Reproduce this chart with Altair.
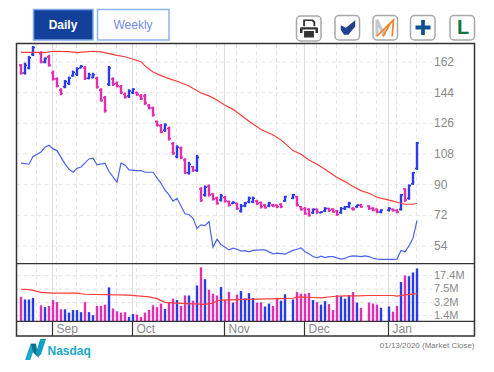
import altair as alt
import pandas as pd

N = None
high = [160.8,161.6,165.5,171.4,N,168.3,164.7,166.1,156.9,153.0,
        146.6,151.4,153.4,156.9,158.9,160.2,159.7,155.7,155.7,153.4,
        146.6,142.1,159.7,153.0,150.5,148.5,144.0,146.0,146.6,144.6,
        143.2,143.2,137.4,135.8,127.6,125.6,126.0,124.1,115.1,113.1,
        112.3,105.5,103.4,101.0,107.5,88.5,89.5,90.1,85.0,83.0,
        84.6,83.4,80.7,80.3,79.5,78.7,79.9,83.0,83.0,81.1,
        80.1,78.7,79.9,78.7,78.3,79.1,83.4,N,84.6,83.4,
        77.5,76.8,76.2,76.0,76.0,74.4,76.8,76.4,76.2,75.2,
        76.8,77.5,79.9,76.8,78.3,78.7,N,77.9,76.8,76.0,
        75.6,N,76.8,76.0,75.6,84.6,87.9,90.1,97.5,115.1]
low = [154.6,154.6,157.7,165.5,N,161.2,161.2,159.3,151.1,147.1,
       142.5,146.6,148.5,153.4,153.8,158.3,151.4,151.8,152.4,146.4,
       138.7,132.3,147.9,147.9,147.1,143.2,140.5,140.9,143.2,142.1,
       139.7,136.8,134.2,129.9,124.1,120.2,121.0,115.9,107.5,105.5,
       104.9,96.3,95.9,97.5,97.5,79.9,83.0,83.0,80.7,78.3,
       80.1,79.5,77.2,78.7,75.2,73.6,76.8,79.1,79.1,78.1,
       76.0,76.0,76.8,76.8,76.2,76.2,79.9,N,81.5,77.2,
       74.8,72.3,71.3,72.9,72.9,73.2,74.0,74.0,73.6,71.7,
       72.9,75.2,76.2,74.8,76.4,76.4,N,75.2,74.4,73.2,
       73.2,N,74.2,74.2,73.2,74.8,79.9,81.1,89.9,98.7]
opens = [160,155.5,158.5,166.5,N,167,162,165,155.5,152,
         145.5,147.5,149.5,154,155,158.5,158.5,152.5,153,152.5,
         145.5,141,149,152,149.5,147.5,143,142,144,144,
         142,142,136.5,135,127,124.5,122,123,114,106.5,
         111.5,104.5,97,100.5,98.5,87.5,84,89,84.5,82,
         81,82.5,80,79,79,74.5,77.5,80,80,80.5,
         79.5,78,77.5,78,78,78.5,80.5,N,82,83,
         77,76,75.5,73.5,75.5,73.5,74.5,76,75.5,74.5,
         73.5,76,77,76,77,78,N,77.5,76,75.5,
         74,N,75,75.5,75,75.5,87.5,82,90.5,99.5]
closes = [155.5,160,164.5,170.5,N,162,164,160,152,148,
          143.5,150.5,152.5,156,158,159.5,152.5,154.5,154.5,147.5,
          139.5,133.5,158.5,149,148,144,141.5,145,146,143,
          140.5,138,135,131,125,121,125,117,108.5,112,
          106,97,102,98.5,106,81,88.5,84,81.5,79,
          83.5,80.5,78,79.5,76,77.5,79,82,82,79,
          77,76.5,79,77.5,77,77,83,N,84,78,
          75.5,73,72,75.5,74,74,76,75,74,72.5,
          76,77,79,75.5,78,77,N,76,75,74,
          75,N,76,75,74,84,81,89.5,97,114.5]
price_dir = list("mbbb-mbmmm" "mbbbbbmbbm" "mmbmmmmbbm" "mmmmmmbmmb" "mmbmbmbmmm"
                 "bmmbmbbbbm" "mmbmmmb-bm" "mmmbmbbmmm" "bbbmbm-mmm" "b-bmmbmbbb")
volume = [4.6,3.9,3.9,4.3,N,2.7,2.4,2.6,3.75,3.3,
          2.1,2.1,1.7,2.0,2.0,1.75,3.3,1.75,1.45,2.6,
          2.6,2.8,8.3,2.2,1.85,1.7,1.75,1.3,1.55,1.5,
          1.3,1.7,2.0,2.7,2.4,3.0,2.15,3.2,4.1,3.75,
          2.6,5.0,5.0,3.6,9.4,29.5,14.0,7.2,5.6,5.0,
          8.5,3.75,6.3,3.2,5.3,6.6,4.2,5.8,4.3,3.2,
          3.25,2.5,3.0,2.6,4.3,3.6,5.4,N,3.9,6.2,
          5.6,5.6,5.9,3.75,3.3,2.8,3.5,2.9,2.0,5.1,
          4.8,4.1,5.1,6.2,3.2,2.3,N,3.2,3.0,2.8,
          2.3,N,2.5,1.8,2.6,11.7,17.6,16.8,21.3,27.5]
volume_dir = list("mbbb-mbmmm" "mbbbbbmbbm" "mmbmmmmbbm" "mmmmmmbmmb" "mmbmbmbmmm"
                  "bmmbmbbbbm" "mbbmmbb-bm" "mmmbmbbmmm" "bbbmbm-mmm" "b-bmmbmbbb")

ma_x = [0,4,6,8,12,14,16,18,20,22,24,26,28,30,31,33,35,37,39,42,45,47,49,51,53,55,57,60,
        63,65,68,70,72,74,76,79,81,83,85,87,89,91,93,95,96,98,99]
ma_y = [167.7,167.7,167.5,168.3,168.1,167.5,167.9,168.3,167.9,166.9,165.9,165.1,163.6,162.2,159.7,156.1,154,152.2,150.7,147.9,143.8,142.1,139.7,136.6,134.2,130.7,127.2,122.4,
        119.2,116.3,110,107.9,104.5,102,99,94.2,91.8,88.9,86.5,85,82.6,81.5,80.3,79.1,78.5,78.5,79.1]
rs_x = [0,2,3,5,6,7,8,9,11,12,13,14,15,17,18,19,21,22,24,25,26,27,29,30,31,33,35,36,37,38,39,41,42,43,44,45,46,47,48,49,50,52,53,54,55,56,
        57,58,60,61,63,64,66,68,69,70,71,72,73,74,75,76,77,78,79,80,81,82,83,84,85,86,87,88,89,90,91,92,93,94,95,96,97,98,99]
rs_y = [102.6,102,106.5,109.2,112,113.1,111,110,102.2,99,97.3,99.6,100.4,105.1,105.5,101.6,102.6,97.7,91.4,102.6,101.6,98.7,98.3,98.3,97.3,97.3,90.8,86.9,84,80.3,82,72.9,72.5,70.3,64.4,66.4,66,68.4,53.3,58,54.9,51.7,52.7,52.1,51,51.3,
        50.6,51.4,51.7,51.7,49.4,49.8,49.2,51.4,52.1,52.9,50.6,49.4,47.8,47,48,47.2,47.8,47.8,47,46.3,46.7,47.8,48.2,48,47.8,48.2,47.8,46.8,46.3,46.1,46.1,46.1,46.1,46.3,51.4,50.6,54.1,58.6,68.9]
vma_x = [0,2,3,5,8,14,16,27,32,34,36,40,46,48,49,50,56,65,68,69,73,75,78,81,84,87,93,94,96,99]
vma_y = [7.4,7.2,6.9,6.1,5.8,5.8,5.4,5.1,4.6,4.1,3.25,3.05,2.85,3.1,3.6,3.75,3.9,4.1,4.2,4.6,4.4,4.3,4.7,4.9,4.9,5.0,5.0,4.8,5.2,5.6]

price_ticks = [162,144,126,108,90,72,54]
vol_ticks = [17.4,7.5,3.2,1.4]
vol_labels = ["17.4M","7.5M","3.2M","1.4M"]
months = ["Sep","Oct","Nov","Dec","Jan"]
month_pos = [7.875,27.875,50.875,70.875,91.875]
week_pos = [3.875,8.875,13.875,18.875,23.875,28.875,33.875,38.875,43.875,48.875,53.875,58.875,
            63.875,68.875,73.875,78.875,83.875,88.875,93.875,98.875]

MAG, BLU, RED, LINE = "#e02fb0", "#2a3ce6", "#ff3c3c", "#4c63e8"
GRAY = "#8a8a8a"
FONT = "Liberation Sans"

bars = pd.DataFrame({"i": range(100), "high": high, "low": low, "open": opens, "close": closes, "dir": price_dir}).dropna()
bars["l"] = bars.i - 0.5
bars["r"] = bars.i + 0.5
vols = pd.DataFrame({"i": range(100), "vol": volume, "dir": volume_dir}).dropna()
ma = pd.DataFrame({"i": ma_x, "v": ma_y})
rs = pd.DataFrame({"i": rs_x, "v": rs_y})
vma = pd.DataFrame({"i": vma_x, "v": vma_y})
pt = pd.DataFrame({"v": price_ticks})
vt = pd.DataFrame({"v": vol_ticks, "t": vol_labels})
mt = pd.DataFrame({"i": month_pos, "t": months})
wt = pd.DataFrame({"i": week_pos})
one = pd.DataFrame({"a": [0]})

X = alt.Scale(domain=[0, 100], range=[13, 413])
xq = lambda f: alt.X(f"{f}:Q", scale=X, axis=None)
PY = alt.Scale(domain=[162, 54], range=[54, 238], zero=False, nice=False)
VY = alt.Scale(type="log", domain=[17.4, 1.4], range=[267.7, 307.7], nice=False)
color = alt.Color("dir:N", scale=alt.Scale(domain=["m", "b"], range=[MAG, BLU]), legend=None)
py = lambda f: alt.Y(f"{f}:Q", scale=PY, axis=None)
vy = lambda f: alt.Y(f"{f}:Q", scale=VY, axis=None)


def box(x0, x1, y0, y1, **kw):
    return alt.Chart(one).mark_rect(**kw).encode(
        x=alt.value(x0 - 8), x2=alt.value(x1 - 8), y=alt.value(y0 - 8), y2=alt.value(y1 - 8))


def glyph(path, x, y, side, **kw):
    return alt.Chart(one).mark_point(shape=path, size=side * side, opacity=1, **kw).encode(
        x=alt.value(x - 8), y=alt.value(y - 8))


def label(text, x, y, **kw):
    return alt.Chart(one).mark_text(text=text, font=FONT, **kw).encode(
        x=alt.value(x - 8), y=alt.value(y - 8))


grid_v_minor = alt.Chart(wt).mark_rule(color="#e6e6e6", strokeDash=[4, 3], strokeWidth=1).encode(
    x=xq("i"), y=alt.value(36), y2=alt.value(313))
grid_v_major = alt.Chart(mt).mark_rule(color="#dddddd", strokeWidth=1).encode(
    x=xq("i"), y=alt.value(36), y2=alt.value(313))
month_sep = alt.Chart(mt).mark_rule(color="#333333", strokeWidth=1.2).encode(
    x=xq("i"), y=alt.value(313), y2=alt.value(328))
month_txt = alt.Chart(mt).mark_text(align="left", baseline="middle", dx=4, font=FONT, fontSize=12, color=GRAY).encode(
    x=xq("i"), y=alt.value(320.5), text="t:N")

price_layer = alt.layer(
    alt.Chart(pt).mark_rule(color="#e6e6e6", strokeDash=[4, 3], strokeWidth=1).encode(
        y=py("v"), x=alt.value(8.5), x2=alt.value(424)),
    alt.Chart(pt).mark_text(align="left", baseline="middle", font=FONT, fontSize=12, color=GRAY).encode(
        y=py("v"), x=alt.value(426), text="v:Q"),
    alt.Chart(bars).mark_rule(strokeWidth=2.4).encode(x=xq("i"), y=py("high"), y2="low:Q", color=color),
    alt.Chart(bars).mark_rule(strokeWidth=1.6).encode(x=xq("l"), x2="i:Q", y=py("open"), color=color),
    alt.Chart(bars).mark_rule(strokeWidth=1.6).encode(x=xq("i"), x2="r:Q", y=py("close"), color=color),
    alt.Chart(ma).mark_line(color=RED, strokeWidth=1.2).encode(x=xq("i"), y=py("v")),
    alt.Chart(rs).mark_line(color=LINE, strokeWidth=1.2).encode(x=xq("i"), y=py("v")),
)

vol_layer = alt.layer(
    alt.Chart(vt).mark_rule(color="#e0e0e0", strokeDash=[4, 3], strokeWidth=1).encode(
        y=vy("v"), x=alt.value(8.5), x2=alt.value(424)),
    alt.Chart(vt).mark_text(align="left", baseline="middle", font=FONT, fontSize=11, color=GRAY).encode(
        y=vy("v"), x=alt.value(426), text="t:N"),
    alt.Chart(vols).mark_rule(strokeWidth=2.4).encode(x=xq("i"), y=vy("vol"), y2=alt.datum(1.0), color=color),
    alt.Chart(vma).mark_line(color=RED, strokeWidth=1.2).encode(x=xq("i"), y=vy("v")),
)

frame = alt.layer(
    box(16.5, 474.5, 43.5, 336, fillOpacity=0, stroke="#333333", strokeWidth=1.5),
    box(16.5, 474.5, 263.7, 263.7, fillOpacity=0, stroke="#333333", strokeWidth=1.2),
    box(16.5, 474.5, 321.3, 321.3, fillOpacity=0, stroke="#333333", strokeWidth=1.2),
)

PRINTER = ("M-.65 -1 L.45 -1 L.7 -.75 L.7 -.25 L.5 -.25 L.5 -.65 L.3 -.82 L-.45 -.82 L-.45 -.25 L-.65 -.25 Z "
           "M-.85 -.15 L.85 -.15 Q1 -.15 1 0 L1 .5 L.72 .5 L.72 .12 L-.72 .12 L-.72 .5 L-1 .5 L-1 0 Q-1 -.15 -.85 -.15 Z "
           "M-.55 .28 L.55 .28 L.55 1 L-.55 1 Z")
CHECK = "M-1 -.3 L-.3 .05 L1 -1 L1 -.15 L.05 1 L-.55 1 L-1 .3 Z"
MGRAY = "M-.95 .9 L-.95 -.95 L-.1 .9 L-.1 .1"
MORANGE = "M-1 1 L1 -.95 L.85 1 M-.25 1 L.75 -.75"
PLUS = "M-.25 -1 L.25 -1 L.25 -.27 L1 -.27 L1 .27 L.25 .27 L.25 1 L-.25 1 L-.25 .27 L-1 .27 L-1 -.27 L-.25 -.27 Z"
N_LEFT = "M-1 1 L-.45 -.55 L.05 -.55 L-.5 1 Z"
N_RIGHT = "M.05 .25 L.45 -1 L1 -1 L.55 .4 L.25 .75 Z"
N_MID = "M-.45 -.55 L.05 -.55 L.25 .75 L-.2 .3 Z"

chrome = alt.layer(
    box(33.5, 93, 9.5, 40, fill="#12409b", stroke="#7fa8ea", strokeWidth=1.5),
    box(97.5, 169, 9.5, 40, fill="#ffffff", stroke="#8fb2ee", strokeWidth=1.5),
    label("Daily", 63, 25, fontSize=12, fontWeight="bold", color="#ffffff", align="center", baseline="middle"),
    label("Weekly", 133, 25, fontSize=12, color="#7288e6", align="center", baseline="middle"),
    box(296.5, 321, 16, 41, fill="#ffffff", stroke="#a8a8a8", strokeWidth=1.5, cornerRadius=4),
    box(335, 359.5, 15.5, 40, fill="#ffffff", stroke="#a8a8a8", strokeWidth=1.5, cornerRadius=4),
    box(373, 397.5, 15.5, 40, fill="#ffffff", stroke="#a8a8a8", strokeWidth=1.5, cornerRadius=4),
    box(410.5, 435, 15.5, 40, fill="#ffffff", stroke="#a8a8a8", strokeWidth=1.5, cornerRadius=4),
    box(450, 474.5, 15.5, 40, fill="#ffffff", stroke="#a8a8a8", strokeWidth=1.5, cornerRadius=4),
    glyph(PRINTER, 309, 28.5, 18, filled=True, color="#333333"),
    glyph(CHECK, 348, 27.5, 14.5, filled=True, color="#22408f"),
    glyph(MGRAY, 385, 28, 17, filled=False, color="#c6c6c6", strokeWidth=3),
    glyph(MORANGE, 385, 28, 17, filled=False, color="#f5832a", strokeWidth=1.7),
    glyph(PLUS, 423, 27.5, 15, filled=True, color="#10508f"),
    label("L", 463, 28, fontSize=20, fontWeight="bold", color="#0d7a3e", align="center", baseline="middle"),
    glyph(N_LEFT, 35.5, 349.5, 21, filled=True, color="#1ba9c9"),
    glyph(N_MID, 35.5, 349.5, 21, filled=True, color="#0b6f92"),
    glyph(N_RIGHT, 35.5, 349.5, 21, filled=True, color="#12a0c0"),
    label("Nasdaq", 47.5, 351, fontSize=12, fontWeight="bold", color="#1aa8c9", align="left", baseline="middle"),
    label("01/13/2020 (Market Close)", 474.5, 346, fontSize=8, color="#777777", align="right", baseline="middle"),
)

chart = alt.layer(
    grid_v_minor, grid_v_major, price_layer, vol_layer, frame, month_sep, month_txt, chrome
).resolve_scale(y="independent", color="shared").properties(
    width=478, height=356, padding=0, autosize=alt.AutoSizeParams(type="none"), background="#ffffff"
).configure_view(stroke=None)

chart.save("out.html", embed_options={"renderer": "svg", "actions": False})
